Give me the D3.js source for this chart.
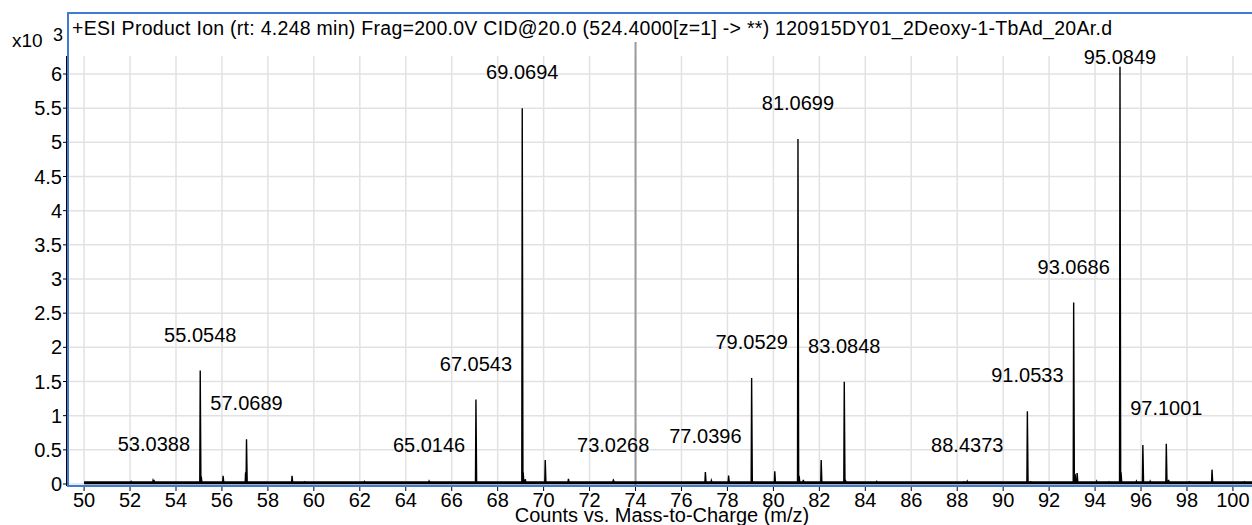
<!DOCTYPE html>
<html>
<head>
<meta charset="utf-8">
<script src="https://d3js.org/d3.v7.min.js"></script>
<style>
  body { margin: 0; background: #fff; }
  text { font-family: "Liberation Sans", Arial, sans-serif; fill: #000; }
</style>
</head>
<body>
<script>
var width = 1252;
var height = 525;

// labelled peaks (m/z, counts)
var peakMz = [53.0388, 55.0548, 57.0689, 65.0146, 67.0543, 69.0694, 73.0268, 77.0396,
              79.0529, 81.0699, 83.0848, 88.4373, 91.0533, 93.0686, 95.0849, 97.1001];
var peakCounts = [60, 1660, 655, 40, 1235, 5500, 45, 175,
                  1550, 5050, 1495, 40, 1065, 2655, 6105, 590];

// smaller unlabelled peaks
var minorMz = [52.05, 53.0, 55.1, 56.05, 57.03, 59.05, 59.6, 62.2, 65.05, 69.11, 69.2, 70.07,
               71.08, 73.05, 77.3, 78.05, 79.1, 80.06, 81.12, 81.3, 82.08, 83.15, 84.5,
               88.3, 91.2, 93.13, 93.22, 94.07, 94.6, 95.13, 95.8, 96.08, 96.4, 97.2, 98.1, 99.09, 100.5];
var minorCounts = [35, 50, 110, 120, 170, 120, 30, 35, 30, 170, 70, 350,
                   75, 45, 50, 125, 35, 185, 120, 60, 350, 40, 35,
                   30, 30, 150, 160, 40, 30, 170, 40, 570, 40, 60, 30, 210, 30];

var xTicks = d3.range(50, 101, 2);
var yTicks = d3.range(0, 6001, 500);
var cursorMz = 74;

var titleText = '+ESI Product Ion (rt: 4.248 min) Frag=200.0V CID@20.0 (524.4000[z=1] -> **) 120915DY01_2Deoxy-1-TbAd_20Ar.d';
var xTitle = 'Counts vs. Mass-to-Charge (m/z)';

var svg = d3.select('body')
    .append('svg')
    .attr('width', width)
    .attr('height', height);

var plotLeft = 68, plotTop = 13, gridTop = 56, plotBottom = 486;

var x = d3.scaleLinear().domain([49.3, 100.83]).range([plotLeft, width]);
var y = d3.scaleLinear().domain([0, 6000]).range([484, 74]);

// grid
var grid = svg.append('g');
grid.selectAll('line.h')
    .data(yTicks)
    .enter()
    .append('line')
    .attr('class', 'h')
    .attr('x1', plotLeft).attr('x2', width)
    .attr('y1', d => y(d)).attr('y2', d => y(d))
    .attr('stroke', '#e2e2e2')
    .attr('stroke-width', 1.5);
grid.selectAll('line.v')
    .data(xTicks)
    .enter()
    .append('line')
    .attr('class', 'v')
    .attr('x1', d => x(d)).attr('x2', d => x(d))
    .attr('y1', gridTop).attr('y2', plotBottom)
    .attr('stroke', '#e2e2e2')
    .attr('stroke-width', 1.5);

// cursor line at 74
svg.append('line')
    .attr('x1', x(cursorMz)).attr('x2', x(cursorMz))
    .attr('y1', 42).attr('y2', plotBottom)
    .attr('stroke', '#9a9a9a')
    .attr('stroke-width', 2);

// spectrum
var base = 18;
var allPeaks = peakMz.map((d, i) => [d, peakCounts[i]])
    .concat(minorMz.map((d, i) => [d, minorCounts[i]]))
    .sort((a, b) => a[0] - b[0]);

var pts = [[50, base]];
allPeaks.forEach(function(p) {
    pts.push([p[0] - 0.02, base]);
    pts.push([p[0], p[1]]);
    pts.push([p[0] + 0.03, base]);
});
pts.push([100.83, base]);

var line = d3.line().x(d => x(d[0])).y(d => y(d[1]));

svg.append('line')
    .attr('x1', x(50)).attr('x2', width)
    .attr('y1', y(base)).attr('y2', y(base))
    .attr('stroke', '#000')
    .attr('stroke-width', 3);

svg.append('path')
    .datum(pts)
    .attr('fill', 'none')
    .attr('stroke', '#000')
    .attr('stroke-width', 1.4)
    .attr('d', line);

// peak labels
svg.append('g').selectAll('text')
    .data(peakMz)
    .enter()
    .append('text')
    .attr('x', d => x(d))
    .attr('y', (d, i) => Math.max(64, y(peakCounts[i]) - 29))
    .attr('text-anchor', 'middle')
    .style('font-size', '20px')
    .text(d => d.toFixed(4));

// frame
svg.append('rect')
    .attr('x', plotLeft).attr('y', plotTop)
    .attr('width', width + 10 - plotLeft).attr('height', plotBottom - plotTop)
    .attr('fill', 'none')
    .attr('stroke', '#3e7bd6')
    .attr('stroke-width', 2);

// y axis
svg.append('line')
    .attr('x1', plotLeft - 1.5).attr('x2', plotLeft - 1.5)
    .attr('y1', gridTop).attr('y2', plotBottom)
    .attr('stroke', '#000').attr('stroke-width', 1);
var ya = svg.append('g');
ya.selectAll('line')
    .data(yTicks)
    .enter()
    .append('line')
    .attr('x1', plotLeft - 5).attr('x2', plotLeft - 1)
    .attr('y1', d => y(d)).attr('y2', d => y(d))
    .attr('stroke', '#000');
ya.selectAll('text')
    .data(yTicks)
    .enter()
    .append('text')
    .attr('x', plotLeft - 6)
    .attr('y', d => y(d) + 7)
    .attr('text-anchor', 'end')
    .style('font-size', '20px')
    .text(d => d / 1000);

svg.append('text').attr('x', 12).attr('y', 47).style('font-size', '19px').text('x10');
svg.append('text').attr('x', 53).attr('y', 41).style('font-size', '18px').text('3');

// x axis
var xa = svg.append('g');
xa.selectAll('line')
    .data(xTicks)
    .enter()
    .append('line')
    .attr('x1', d => x(d)).attr('x2', d => x(d))
    .attr('y1', plotBottom + 1).attr('y2', plotBottom + 5)
    .attr('stroke', '#000');
xa.selectAll('text')
    .data(xTicks)
    .enter()
    .append('text')
    .attr('x', d => x(d))
    .attr('y', 507)
    .attr('text-anchor', 'middle')
    .style('font-size', '20px')
    .text(d => d);

svg.append('text')
    .attr('x', 662).attr('y', 522)
    .attr('text-anchor', 'middle')
    .style('font-size', '20px')
    .text(xTitle);

svg.append('text')
    .attr('x', 72).attr('y', 35)
    .attr('textLength', 1040)
    .attr('lengthAdjust', 'spacing')
    .style('font-size', '19.5px')
    .text(titleText);
</script>
</body>
</html>
